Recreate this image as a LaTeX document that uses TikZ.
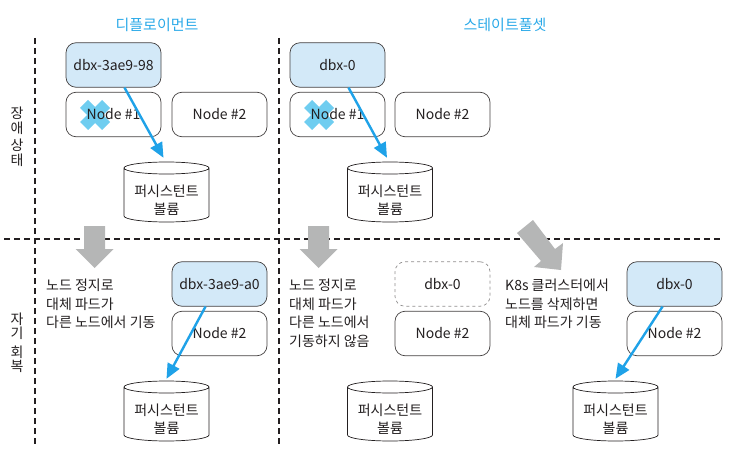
\documentclass[tikz,border=0pt]{standalone}
\usepackage{fontspec}
\setmainfont{Noto Sans CJK KR}
\usetikzlibrary{arrows.meta,calc}
\definecolor{ink}{HTML}{231F20}
\definecolor{skyfill}{HTML}{D3E9F8}
\definecolor{flowblue}{HTML}{1FA2E8}
\definecolor{titleblue}{HTML}{2AA9E8}
\definecolor{crossblue}{HTML}{6FCDF0}
\definecolor{arrowgray}{HTML}{B5B6B6}
\tikzset{
  x=1pt,y=-1pt,
  every node/.style={text=ink,font=\fontsize{14}{18.5}\selectfont},
  rbox/.style={draw=ink!85,line width=0.7pt,rounded corners=10pt,minimum width=95pt,minimum height=44.5pt,inner sep=0pt,fill=white},
  podbox/.style={rbox,fill=skyfill},
  ghostbox/.style={rbox,draw=ink!50,dashed},
  volbox/.style={minimum width=85pt,minimum height=60pt,inner sep=0pt},
  volline/.style={draw=ink,line width=0.7pt,fill=white},
  flow/.style={draw=flowblue,line width=2.4pt,-{Triangle[length=15pt,width=13pt]}},
  divider/.style={draw=ink,line width=1.1pt,dash pattern=on 6pt off 4pt},
  gray arrow/.style={fill=arrowgray,draw=none},
  note/.style={align=left,anchor=north west,inner sep=0pt},
  vlabel/.style={align=center,inner sep=0pt,font=\fontsize{14}{14.5}\selectfont},
  title/.style={text=titleblue,font=\fontsize{15}{18}\selectfont},
}
\newcommand{\crossmark}[2]{%
  \fill[crossblue,shift={(#1,#2)}] (-15,-7) -- (-7,-15) -- (0,-8) -- (7,-15) -- (15,-7) -- (8,0) -- (15,7) -- (7,15) -- (0,8) -- (-7,15) -- (-15,7) -- (-8,0) -- cycle;}
\newcommand{\grayfall}[1]{%
  \fill[gray arrow,shift={(#1,0)}] (-10.5,226) -- (10.5,226) -- (10.5,249) -- (19,249) -- (0,268) -- (-19,249) -- (-10.5,249) -- cycle;}
\newcommand{\volume}[3]{%
  \draw[volline] (#2-42.5,#3-24) -- (#2-42.5,#3+24)
    arc[start angle=180,end angle=360,x radius=42.5pt,y radius=6pt]
    -- (#2+42.5,#3-24)
    arc[start angle=0,end angle=180,x radius=42.5pt,y radius=6pt]
    arc[start angle=180,end angle=360,x radius=42.5pt,y radius=6pt];
  \node[volbox] (#1) at (#2,#3) {\raisebox{-13.5pt}[18pt][18pt]{\begin{tabular}{@{}c@{}}퍼시스턴트\\볼륨\end{tabular}}};}
\begin{document}
\begin{tikzpicture}
\useasboundingbox (0,0) rectangle (733,457);
\draw[divider] (35,38) -- (35,447);
\draw[divider] (279,38) -- (279,447);
\draw[divider] (4,239) -- (723,239);
\node[title] (t1) at (157,25) {디플로이먼트};
\node[title] (t2) at (505,25) {스테이트풀셋};
\node[vlabel] (v1) at (17,137) {장\\애\\[3pt]상\\태};
\node[vlabel] (v2) at (17,343) {자\\기\\[4pt]회\\복};
% top left
\node[podbox] (a1) at (113.5,65) {dbx-3ae9-98};
\crossmark{95}{115}
\node[rbox,fill=none] (a2) at (113.5,114.5) {Node \#1};
\node[rbox] (a3) at (219.5,114.5) {Node \#2};
\volume{a4}{166.5}{192}
\draw[flow] ([xshift=11pt]a1.south) -- ([shift={(-3pt,4pt)}]a4.north);
% top right
\node[podbox] (b1) at (337.5,65) {dbx-0};
\crossmark{319}{115}
\node[rbox,fill=none] (b2) at (337.5,114.5) {Node \#1};
\node[rbox] (b3) at (442.5,114.5) {Node \#2};
\volume{b4}{390}{192}
\draw[flow] ([xshift=11pt]b1.south) -- ([shift={(-3pt,4pt)}]b4.north);
% bottom left
\grayfall{94.5}
\node[note] (n1) at (46,279) {노드 정지로\\대체 파드가\\다른 노드에서 기동};
\node[podbox] (c1) at (219.5,284) {dbx-3ae9-a0};
\node[rbox] (c2) at (219.5,333.5) {Node \#2};
\volume{c3}{166.5}{411}
\draw[flow] ([xshift=-14pt]c1.south) -- ([yshift=2pt]c3.north);
% bottom middle
\grayfall{318.5}
\node[note] (n2) at (289,279) {노드 정지로\\대체 파드가\\다른 노드에서\\기동하지 않음};
\node[ghostbox] (d1) at (442.5,284) {dbx-0};
\node[rbox] (d2) at (442.5,333.5) {Node \#2};
\volume{d3}{390}{411}
% bottom right
\fill[gray arrow] (533,220) -- (517,233) -- (541,261) -- (534,267) -- (561,270) -- (563,243) -- (555,249) -- cycle;
\node[note] (n3) at (505,279) {K8s 클러스터에서\\노드를 삭제하면\\대체 파드가 기동};
\node[podbox] (e1) at (674.5,284) {dbx-0};
\node[rbox] (e2) at (674.5,333.5) {Node \#2};
\volume{e3}{615.5}{411}
\draw[flow] ([xshift=-12pt]e1.south) -- ([yshift=2pt]e3.north);
\end{tikzpicture}
\end{document}
